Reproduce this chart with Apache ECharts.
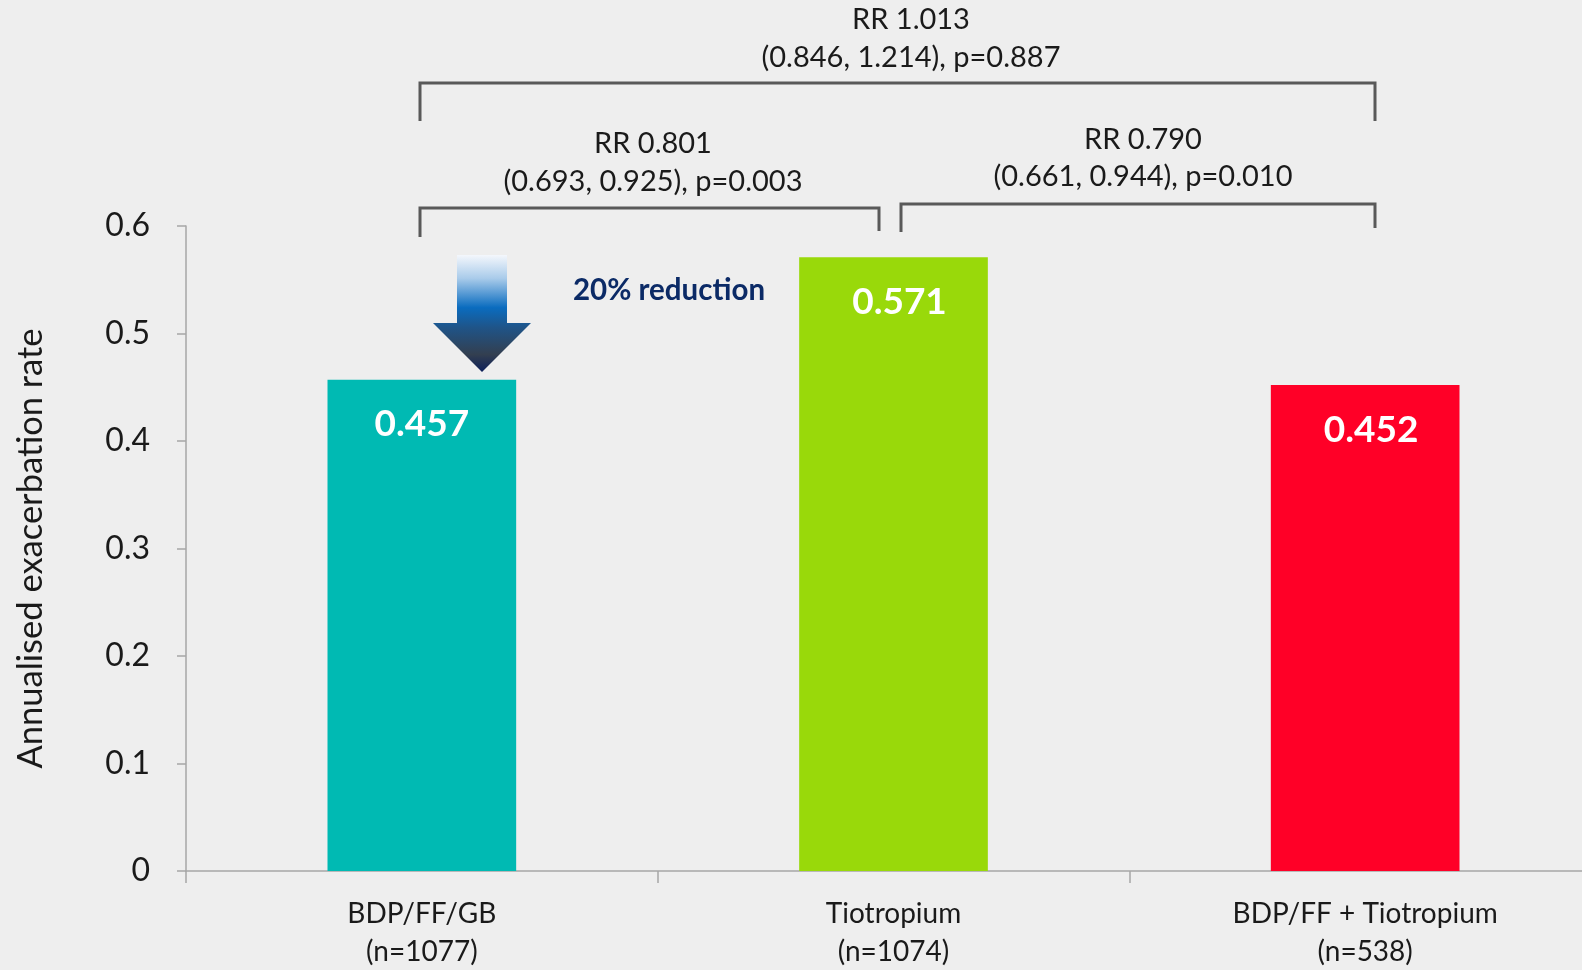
<!DOCTYPE html>
<html>
<head>
<meta charset="utf-8">
<title>Annualised exacerbation rate</title>
<script src="https://cdn.jsdelivr.net/npm/echarts@6/dist/echarts.min.js"></script>
<style>
  html, body { margin: 0; padding: 0; background: #eeeeee; }
  #chart { width: 1582px; height: 970px; }
</style>
</head>
<body>
<div id="chart"></div>
<script>
// Treatment arms and their annualised moderate/severe exacerbation rates
const categories = ['BDP/FF/GB', 'Tiotropium', 'BDP/FF + Tiotropium'];
const groupSizes = ['(n=1077)', '(n=1074)', '(n=538)'];
const rates = [0.457, 0.571, 0.452];
const barColors = ['#00bab3', '#99d90a', '#ff0027'];

// Rate-ratio comparisons shown above the bars
const comparisons = [
  { line1: 'RR 1.013', line2: '(0.846, 1.214), p=0.887' },
  { line1: 'RR 0.801', line2: '(0.693, 0.925), p=0.003' },
  { line1: 'RR 0.790', line2: '(0.661, 0.944), p=0.010' }
];
const reductionText = '20% reduction';

const FONT = 'Lato, "Noto Sans", sans-serif';
const BRACKET = '#595959';
// Small horizontal nudges of the value labels inside each bar
const labelNudge = [0, 6, 6];

const chart = echarts.init(document.getElementById('chart'), null, { renderer: 'canvas' });

function bracket(x1, x2, y, leftDrop, rightDrop) {
  return {
    type: 'polyline',
    shape: { points: [[x1, y + leftDrop], [x1, y], [x2, y], [x2, y + rightDrop]] },
    style: { stroke: BRACKET, lineWidth: 3, fill: null },
    z: 10
  };
}

function label2(text, x, y) {
  return {
    type: 'text',
    x: x, y: y,
    style: {
      text: text, font: '29px ' + FONT, fill: '#1a1a1a',
      align: 'center', verticalAlign: 'middle'
    },
    z: 10
  };
}

const option = {
  backgroundColor: '#eeeeee',
  animation: false,
  grid: {
    left: 186, top: 226, width: 1415, height: 645,
    outerBoundsMode: 'none', containLabel: false
  },
  xAxis: {
    type: 'category',
    data: categories.map((c, i) => c + '\n' + groupSizes[i]),
    boundaryGap: true,
    axisLine: { lineStyle: { color: '#a6a6a6', width: 1.5 } },
    axisTick: { show: true, alignWithLabel: false, length: 12, lineStyle: { color: '#a6a6a6', width: 1.5 } },
    axisLabel: {
      color: '#1a1a1a', fontFamily: FONT, fontSize: 28, lineHeight: 38,
      margin: 24, interval: 0
    },
    splitLine: { show: false }
  },
  yAxis: {
    type: 'value',
    min: 0, max: 0.6, interval: 0.1,
    name: 'Annualised exacerbation rate',
    nameLocation: 'middle', nameRotate: 90, nameGap: 138,
    nameTextStyle: { color: '#1a1a1a', fontFamily: FONT, fontSize: 34.5 },
    axisLine: { show: true, lineStyle: { color: '#a6a6a6', width: 1.5 } },
    axisTick: { show: true, inside: false, length: 9, lineStyle: { color: '#a6a6a6', width: 1.5 } },
    axisLabel: { color: '#1a1a1a', fontFamily: FONT, fontSize: 32, margin: 36 },
    splitLine: { show: false }
  },
  series: [{
    type: 'bar',
    barWidth: '40%',
    data: rates.map((v, i) => ({
      value: v,
      itemStyle: { color: barColors[i] },
      label: { offset: [labelNudge[i], 0] }
    })),
    label: {
      show: true, position: 'insideTop', distance: 26,
      color: '#ffffff', fontFamily: FONT, fontWeight: 'bold', fontSize: 37,
      formatter: p => p.value.toFixed(3)
    }
  }],
  graphic: [
    // Comparison brackets
    bracket(420, 1375, 83, 38, 38),
    bracket(420, 879, 208, 29, 23),
    bracket(901, 1375, 204, 28, 24),
    // Comparison labels
    label2(comparisons[0].line1, 911, 20),
    label2(comparisons[0].line2, 911, 58),
    label2(comparisons[1].line1, 653, 144),
    label2(comparisons[1].line2, 653, 182),
    label2(comparisons[2].line1, 1143, 140),
    label2(comparisons[2].line2, 1143, 177),
    // Downward arrow marking the reduction versus tiotropium
    {
      type: 'polygon',
      shape: {
        points: [[457, 255], [507, 255], [507, 323], [531, 323], [482, 372], [433, 323], [457, 323]]
      },
      style: {
        fill: new echarts.graphic.LinearGradient(0, 0, 0, 1, [
          { offset: 0, color: '#f4f7fc' },
          { offset: 0.2, color: '#a9cbea' },
          { offset: 0.45, color: '#0a6cbf' },
          { offset: 0.62, color: '#1f5488' },
          { offset: 0.85, color: '#333f50' },
          { offset: 1, color: '#0c1f5a' }
        ])
      },
      z: 10
    },
    {
      type: 'text',
      x: 669, y: 290,
      style: {
        text: reductionText, font: 'bold 29.5px ' + FONT, fill: '#0b2a66',
        align: 'center', verticalAlign: 'middle'
      },
      z: 10
    }
  ]
};

chart.setOption(option);
</script>
</body>
</html>
